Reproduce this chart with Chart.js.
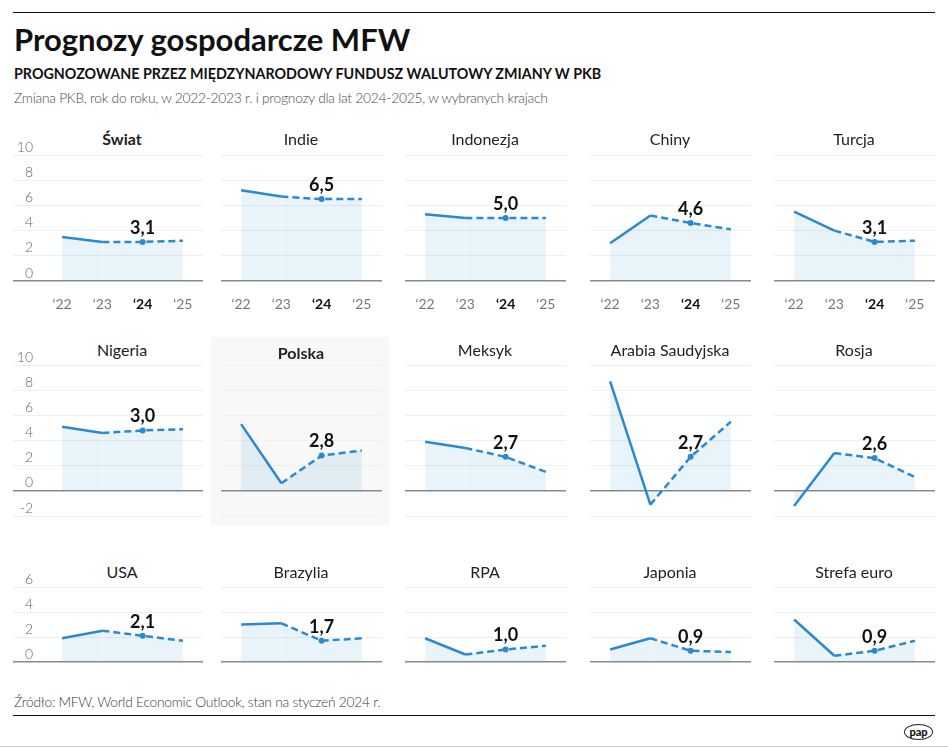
<!DOCTYPE html>
<html>
<head>
<meta charset="utf-8">
<script src="https://cdn.jsdelivr.net/npm/chart.js@4.4.1/dist/chart.umd.min.js"></script>
<style>
  body { margin:0; width:948px; height:748px; background:#fff; font-family:Lato, sans-serif; position:relative; overflow:hidden; }
  .abs { position:absolute; }
  .title { left:14px; top:20px; font-size:31px; font-weight:bold; color:#111; white-space:nowrap; }
  .sub { left:14px; top:65px; font-size:14.3px; font-weight:bold; color:#111; white-space:nowrap; }
  .sub2 { left:14px; top:89px; font-size:13.8px; letter-spacing:-0.25px; font-weight:300; color:#4a4a4a; white-space:nowrap; }
  .ptitle { width:200px; height:20px; line-height:20px; text-align:center; font-size:16px; color:#222; white-space:nowrap; }
  .src { left:14px; top:693px; font-size:13.8px; letter-spacing:-0.25px; font-weight:300; color:#3a3a3a; white-space:nowrap; }
  .pap { left:904px; top:724px; width:27px; height:14px; border:1.5px solid #222; border-radius:50%; font-size:11px; font-weight:900; line-height:14px; text-align:center; color:#111; }
</style>
</head>
<body>
<div class="abs" style="left:13px;top:12px;width:922px;border-top:1px solid #111"></div>
<div class="abs title">Prognozy gospodarcze MFW</div>
<div class="abs sub">PROGNOZOWANE PRZEZ MIĘDZYNARODOWY FUNDUSZ WALUTOWY ZMIANY W PKB</div>
<div class="abs sub2">Zmiana PKB, rok do roku, w 2022-2023 r. i prognozy dla lat 2024-2025, w wybranych krajach</div>
<div class="abs" style="left:211px;top:337px;width:178px;height:189px;background:#f8f8f8"></div>
<div id="panels"></div>
<div class="abs src">Źródło: MFW, World Economic Outlook, stan na styczeń 2024 r.</div>
<div class="abs" style="left:13px;top:715px;width:922px;border-top:1.5px solid #111"></div>
<div class="abs pap">pap</div>
<div class="abs" style="left:0;top:746px;width:948px;border-top:1px solid #ccc"></div>

<script>
// dane: zmiana PKB r/r, lata 2022-2025
var years = ["‘22", "‘23", "‘24", "‘25"];
var countries = ["Świat", "Indie", "Indonezja", "Chiny", "Turcja",
                 "Nigeria", "Polska", "Meksyk", "Arabia Saudyjska", "Rosja",
                 "USA", "Brazylia", "RPA", "Japonia", "Strefa euro"];
var swiat     = [3.5, 3.1, 3.1, 3.2];
var indie     = [7.2, 6.7, 6.5, 6.5];
var indonezja = [5.3, 5.0, 5.0, 5.0];
var chiny     = [3.0, 5.2, 4.6, 4.1];
var turcja    = [5.5, 4.0, 3.1, 3.2];
var nigeria   = [5.1, 4.6, 4.8, 4.9];
var polska    = [5.3, 0.6, 2.8, 3.2];
var meksyk    = [3.9, 3.4, 2.7, 1.5];
var arabia    = [8.7, -1.1, 2.7, 5.5];
var rosja     = [-1.2, 3.0, 2.6, 1.1];
var usa       = [1.9, 2.5, 2.1, 1.7];
var brazylia  = [3.0, 3.1, 1.7, 1.9];
var rpa       = [1.9, 0.6, 1.0, 1.3];
var japonia   = [1.0, 1.9, 0.9, 0.8];
var euro      = [3.4, 0.5, 0.9, 1.7];
var series = [swiat, indie, indonezja, chiny, turcja, nigeria, polska, meksyk, arabia, rosja, usa, brazylia, rpa, japonia, euro];
var labels24 = ["3,1", "6,5", "5,0", "4,6", "3,1", "3,0", "2,8", "2,7", "2,7", "2,6", "2,1", "1,7", "1,0", "0,9", "0,9"];
var boldTitles = ["Świat", "Polska"];

var blue = "#2a89d0";
var colLeft = [42, 221, 405, 590, 774];
var rows = [
  {top:155, bottom:281, min:0,  max:10, titleY:139, xLabels:true},
  {top:365, bottom:516, min:-2, max:10, titleY:350, xLabels:false},
  {top:587, bottom:662, min:0,  max:6,  titleY:572, xLabels:false}
];
var padTop = 15;

// etykieta z wartoscia nad punktem '24
var valueLabel = {
  id: "valueLabel",
  afterDatasetsDraw: function(chart, args, opts) {
    var pt = chart.getDatasetMeta(0).data[2];
    var ctx = chart.ctx;
    ctx.save();
    ctx.font = "bold 18px Lato";
    ctx.fillStyle = "#111";
    ctx.textAlign = "center";
    ctx.textBaseline = "middle";
    ctx.fillText(opts.text, pt.x, pt.y - 14);
    ctx.restore();
  }
};

var holder = document.getElementById("panels");

for (var i = 0; i < countries.length; i++) {
  var r = Math.floor(i / 5), c = i % 5, row = rows[r];
  var first = (c == 0);
  var left = first ? 13 : colLeft[c];
  var width = first ? 190 : 161;
  var xH = row.xLabels ? 30 : 0;
  var height = row.bottom - row.top + padTop + xH + 3;

  var t = document.createElement("div");
  t.className = "abs ptitle";
  t.style.left = (colLeft[c] + 80 - 100) + "px";
  t.style.top = (row.titleY - 10 + (countries[i] == "Polska" ? 3 : 0)) + "px";
  if (boldTitles.indexOf(countries[i]) >= 0) t.style.fontWeight = "bold";
  t.textContent = countries[i];
  holder.appendChild(t);

  var cv = document.createElement("canvas");
  cv.className = "abs";
  cv.width = width; cv.height = height;
  cv.style.left = left + "px";
  cv.style.top = (row.top - padTop) + "px";
  cv.style.width = width + "px";
  cv.style.height = height + "px";
  holder.appendChild(cv);

  new Chart(cv, {
    type: "line",
    data: {
      labels: years,
      datasets: [{
        data: series[i],
        borderColor: blue,
        borderWidth: 2.5,
        backgroundColor: "rgba(42,137,208,0.1)",
        fill: "origin",
        tension: 0,
        pointRadius: function(ctx) { return ctx.dataIndex == 2 ? 3 : 0; },
        pointBackgroundColor: blue,
        pointBorderWidth: 0,
        segment: {
          borderDash: function(ctx) { return ctx.p0DataIndex >= 1 ? [7, 4] : undefined; }
        }
      }]
    },
    options: {
      responsive: false,
      animation: false,
      devicePixelRatio: 1,
      layout: { padding: { top: padTop, bottom: 3, left: 0, right: 0 } },
      plugins: {
        legend: { display: false },
        tooltip: { enabled: false },
        valueLabel: { text: labels24[i] }
      },
      scales: {
        x: {
          display: row.xLabels,
          offset: true,
          grid: { display: false },
          border: { display: false },
          ticks: {
            padding: 7,
            color: function(ctx) { return ctx.index == 2 ? "#111" : "#777"; },
            font: function(ctx) { return { family: "Lato", size: 14, weight: ctx.index == 2 ? "bold" : "normal" }; }
          },
          afterFit: (function(h) { return function(s) { s.height = h; }; })(xH)
        },
        y: {
          min: row.min,
          max: row.max,
          border: { display: false },
          grid: {
            drawTicks: first,
            tickLength: 29,
            color: function(ctx) { return ctx.tick.value == 0 ? "#8a8a8a" : "#efefef"; },
            lineWidth: function(ctx) { return ctx.tick.value == 0 ? 1.5 : 1; }
          },
          ticks: {
            display: first,
            stepSize: 2,
            padding: -20,
            labelOffset: -8,
            color: "#666",
            font: { family: "Lato", size: 14, weight: "300" }
          },
          afterFit: (function(f) { return function(s) { s.width = f ? 29 : 0; }; })(first)
        }
      }
    },
    plugins: [valueLabel]
  });
}
</script>
</body>
</html>
